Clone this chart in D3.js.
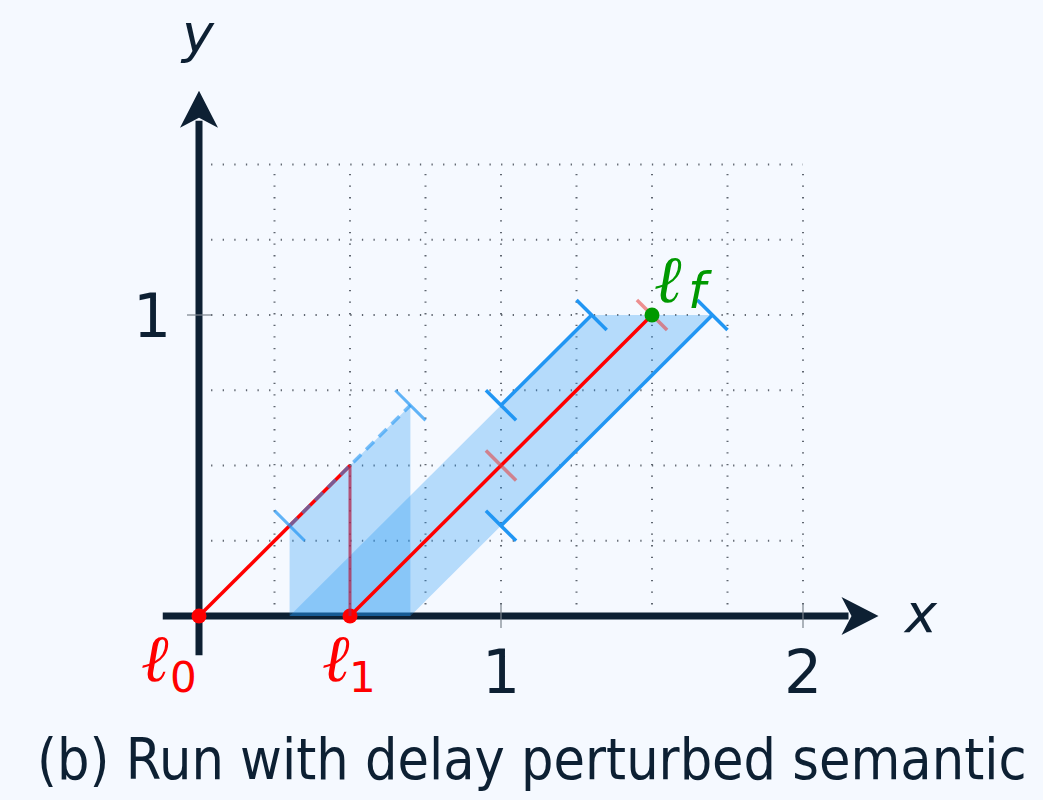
<!DOCTYPE html>
<html lang="en">
<head>
    <meta charset="UTF-8">
    <title>Run with delay perturbed semantic</title>
    <script src="https://d3js.org/d3.v7.min.js"></script>
    <style>
        body { margin: 0; background: #f5f9ff; }
        .tick-label { font-family: "DejaVu Sans", sans-serif; font-size: 60px; fill: #0d2033; }
        .axis-name { font-family: "DejaVu Sans", sans-serif; font-style: italic; font-size: 54px; fill: #0d2033; }
        .loc { font-family: "DejaVu Serif", serif; font-style: italic; }
        .caption { font-family: "DejaVu Sans", sans-serif; font-size: 57px; fill: #0d2033; }
    </style>
</head>
<body>
<script>
    // ticks and grid
    const xTicks = [1, 2];
    const yTicks = [1];
    const gridX = [0, 0.25, 0.5, 0.75, 1, 1.25, 1.5, 1.75, 2];
    const gridY = [0, 0.25, 0.5, 0.75, 1, 1.25, 1.5];

    // the run (red) and its locations
    const runSegments = [
        [[0, 0], [0.5, 0.5]],
        [[0.5, 0], [1.5, 1]]
    ];
    const delaySegment = [[0.5, 0.5], [0.5, 0]];
    const locations = [
        {name: "0", at: [0, 0], color: "#ff0000"},
        {name: "1", at: [0.5, 0], color: "#ff0000"},
        {name: "f", at: [1.5, 1], color: "#009900"}
    ];

    // perturbed (blue) regions
    const regionA = [[0.3, 0], [0.7, 0], [0.7, 0.7], [0.3, 0.3]];
    const regionB = [[0.3, 0], [0.7, 0], [1.7, 1], [1.3, 1]];
    const dashedEdge = [[0.3, 0.3], [0.7, 0.7]];
    const bandEdges = [
        [[1.0, 0.7], [1.3, 1.0]],
        [[1.0, 0.3], [1.7, 1.0]]
    ];
    const faintMarks = [[0.3, 0.3], [0.7, 0.7]];
    const blueMarks = [[1.0, 0.7], [1.3, 1.0], [1.0, 0.3], [1.7, 1.0]];
    const redMarks = [[1.0, 0.5], [1.5, 1.0]];

    const W = 1043, H = 800;
    const ink = "#0d2033";
    const blue = "#2196f3";

    const svg = d3.select("body").append("svg")
        .attr("width", W)
        .attr("height", H);

    svg.append("rect").attr("width", W).attr("height", H).attr("fill", "#f5f9ff");

    const x = d3.scaleLinear().domain([0, 2]).range([199, 803]);
    const y = d3.scaleLinear().domain([0, 1]).range([616, 315]);
    const line = d3.line().x(d => x(d[0])).y(d => y(d[1]));

    // dotted grid
    const grid = svg.append("g")
        .attr("stroke", "#5f6670")
        .attr("stroke-width", 2)
        .attr("stroke-dasharray", "1.3 10.3");
    grid.selectAll(".gx").data(gridX).join("line")
        .attr("x1", d => x(d)).attr("x2", d => x(d))
        .attr("y1", y(0)).attr("y2", y(1.5));
    grid.selectAll(".gy").data(gridY).join("line")
        .attr("y1", d => y(d)).attr("y2", d => y(d))
        .attr("x1", x(0.04)).attr("x2", x(2));

    // axes with stealth arrow heads
    const axes = svg.append("g");
    const xEnd = x(2.25), yEnd = y(1.745);
    axes.append("line")
        .attr("x1", x(-0.12)).attr("x2", xEnd - 30)
        .attr("y1", y(0)).attr("y2", y(0))
        .attr("stroke", ink).attr("stroke-width", 7);
    axes.append("line")
        .attr("x1", x(0)).attr("x2", x(0))
        .attr("y1", y(-0.13)).attr("y2", yEnd + 30)
        .attr("stroke", ink).attr("stroke-width", 7);

    function stealth(tx, ty, dir) {
        // dir: [ux, uy] unit vector pointing to the tip
        const [ux, uy] = dir, px = -uy, py = ux;
        const p = d3.path();
        p.moveTo(tx, ty);
        p.lineTo(tx - 37 * ux + 19 * px, ty - 37 * uy + 19 * py);
        p.lineTo(tx - 27 * ux, ty - 27 * uy);
        p.lineTo(tx - 37 * ux - 19 * px, ty - 37 * uy - 19 * py);
        p.closePath();
        return p.toString();
    }
    axes.append("path").attr("d", stealth(xEnd, y(0), [1, 0])).attr("fill", ink);
    axes.append("path").attr("d", stealth(x(0), yEnd, [0, -1])).attr("fill", ink);

    // small ticks
    axes.selectAll(".xt").data(xTicks).join("line")
        .attr("x1", d => x(d)).attr("x2", d => x(d))
        .attr("y1", y(0) - 12).attr("y2", y(0) + 12)
        .attr("stroke", "#7a838d").attr("stroke-width", 1.2);
    axes.selectAll(".yt").data(yTicks).join("line")
        .attr("y1", d => y(d)).attr("y2", d => y(d))
        .attr("x1", x(0) - 12).attr("x2", x(0) + 12)
        .attr("stroke", "#7a838d").attr("stroke-width", 1.2);

    svg.selectAll(".xl").data(xTicks).join("text")
        .attr("class", "tick-label")
        .attr("x", d => x(d)).attr("y", 693)
        .attr("text-anchor", "middle")
        .text(d => d);
    svg.selectAll(".yl").data(yTicks).join("text")
        .attr("class", "tick-label")
        .attr("x", x(0) - 47).attr("y", d => y(d) + 22)
        .attr("text-anchor", "middle")
        .text(d => d);

    svg.append("text").attr("class", "axis-name").attr("x", 921).attr("y", 632)
        .attr("text-anchor", "middle").text("x");
    svg.append("text").attr("class", "axis-name").attr("x", 198).attr("y", 52)
        .attr("text-anchor", "middle").text("y");

    // shaded regions
    const shade = svg.append("g");
    shade.append("path").attr("d", line(regionA) + "Z")
        .attr("fill", blue).attr("fill-opacity", 0.3);
    shade.append("path").attr("d", line(regionB) + "Z")
        .attr("fill", blue).attr("fill-opacity", 0.3);

    // run
    svg.append("g").selectAll("path").data(runSegments).join("path")
        .attr("d", line)
        .attr("stroke", "#ff0000").attr("stroke-width", 3.5).attr("fill", "none");

    // blue edges
    svg.append("path").attr("d", line(dashedEdge))
        .attr("stroke", blue).attr("stroke-opacity", 0.6)
        .attr("stroke-width", 3.5).attr("stroke-dasharray", "11 7").attr("fill", "none");
    svg.append("g").selectAll("path").data(bandEdges).join("path")
        .attr("d", line)
        .attr("stroke", blue).attr("stroke-width", 3.5).attr("fill", "none");

    // perpendicular marks
    const mark = d => line([[d[0] - 0.05, d[1] + 0.05], [d[0] + 0.05, d[1] - 0.05]]);
    svg.append("g").selectAll("path").data(faintMarks).join("path")
        .attr("d", mark).attr("stroke", blue).attr("stroke-opacity", 0.7).attr("stroke-width", 3);
    svg.append("g").selectAll("path").data(blueMarks).join("path")
        .attr("d", mark).attr("stroke", blue).attr("stroke-width", 3.5);
    svg.append("g").selectAll("path").data(redMarks).join("path")
        .attr("d", mark).attr("stroke", "#e53935").attr("stroke-opacity", 0.55).attr("stroke-width", 3.5);

    // location dots
    svg.append("g").selectAll("circle").data(locations).join("circle")
        .attr("cx", d => x(d.at[0])).attr("cy", d => y(d.at[1]))
        .attr("r", 7.5).attr("fill", d => d.color);

    // delay (vertical)
    svg.append("path").attr("d", line(delaySegment))
        .attr("stroke", "#b0244c").attr("stroke-opacity", 0.75)
        .attr("stroke-width", 3).attr("fill", "none");

    // location labels
    const labelPos = [
        {x: 141, y: 681, sx: 170, sy: 692, size: 66, sub: 42},
        {x: 322, y: 681, sx: 349, sy: 692, size: 66, sub: 42},
        {x: 654, y: 302, sx: 688, sy: 308, size: 66, sub: 50}
    ];
    const lab = svg.append("g").selectAll("g").data(locations).join("g");
    lab.append("text").attr("class", "loc")
        .attr("x", (d, i) => labelPos[i].x).attr("y", (d, i) => labelPos[i].y)
        .attr("font-size", (d, i) => labelPos[i].size)
        .attr("fill", d => d.color)
        .text("\u2113");
    lab.append("text")
        .attr("font-family", "DejaVu Sans, sans-serif")
        .attr("font-style", d => d.name === "f" ? "italic" : "normal")
        .attr("x", (d, i) => labelPos[i].sx).attr("y", (d, i) => labelPos[i].sy)
        .attr("font-size", (d, i) => labelPos[i].sub)
        .attr("fill", d => d.color)
        .text(d => d.name);

    // caption, squeezed horizontally to the reference's width
    const cap = svg.append("text").attr("class", "caption")
        .text("(b) Run with delay perturbed semantic");
    const natural = cap.node().getComputedTextLength();
    cap.attr("transform", `translate(37,779) scale(${990 / natural},1)`);
</script>
</body>
</html>
